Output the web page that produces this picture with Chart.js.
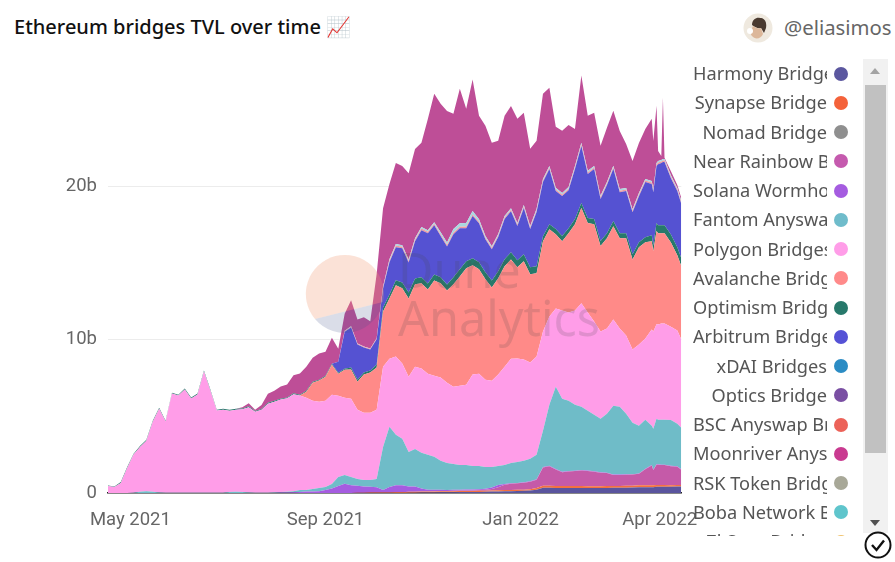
<!DOCTYPE html>
<html>
<head>
<meta charset="utf-8">
<title>Ethereum bridges TVL over time</title>
<script src="https://cdn.jsdelivr.net/npm/chart.js@4/dist/chart.umd.min.js"></script>
<style>
  html, body { margin: 0; padding: 0; background: #fff; width: 895px; height: 562px; overflow: hidden; }
  body { position: relative; font-family: "Noto Sans", sans-serif; }
  #title { position: absolute; left: 14px; top: 13px; font-size: 20px; font-weight: 500; color: #111; white-space: nowrap; }
  #handle { position: absolute; left: 784px; top: 13px; font-size: 20.3px; color: #666; white-space: nowrap; }
  #avatar { position: absolute; left: 743px; top: 13px; }
  #chartBox { position: absolute; left: 0; top: 42px; width: 706px; height: 493px; }
  #watermark { position: absolute; left: 303px; top: 245px; width: 320px; height: 100px; pointer-events: none; }
  #duneText { position: absolute; left: 398px; top: 245px; font-size: 48.5px; line-height: 48px; color: rgba(70, 70, 70, 0.17); pointer-events: none; }
  #legend { position: absolute; left: 690px; top: 59px; width: 165px; height: 477px; overflow: hidden; }
  .row { position: absolute; left: 0; height: 29px; width: 165px; }
  .name { position: absolute; left: 3px; width: 134px; top: 0; line-height: 29px; font-size: 18.2px; color: #555; white-space: nowrap; overflow: hidden; text-align: right; }
  .dot { position: absolute; left: 144px; top: 7.5px; width: 14px; height: 14px; border-radius: 50%; }
  #track { position: absolute; left: 863px; top: 59px; width: 25px; height: 474px; background: #f1f1f1; }
  #thumb { position: absolute; left: 2px; top: 26px; width: 21px; height: 368px; background: #c1c1c1; }
  #up { position: absolute; left: 7px; top: 9px; border: 5px solid transparent; border-top: 0; border-bottom: 6px solid #a3a3a3; }
  #down { position: absolute; left: 7px; top: 461px; border: 5px solid transparent; border-bottom: 0; border-top: 6px solid #505050; }
  #check { position: absolute; left: 864px; top: 531px; }
</style>
</head>
<body>
<div id="title">Ethereum bridges TVL over time 📈</div>
<svg id="avatar" width="30" height="30" viewBox="0 0 30 30">
  <circle cx="15" cy="15" r="14.5" fill="#efe9df"/>
  <path d="M9 12c0-6 5-8 8-7 5 0 7 4 6 10l-2 5-3-5c-3 1-6-1-9-3z" fill="#4a3a30"/>
  <path d="M10 13c3 2 6 3 8 2l2 6c-2 5-8 6-11 2-2-2-1-6 1-10z" fill="#dcb79a"/>
  <circle cx="7" cy="18" r="3" fill="#fff"/>
</svg>
<div id="handle">@eliasimos</div>
<div id="chartBox"><canvas id="tvlChart"></canvas></div>
<svg id="watermark" viewBox="0 0 320 100">
  <path d="M12 74 A39 39 0 1 1 80 57 Z" fill="rgba(240,150,110,0.28)"/>
  <path d="M12 74 L80 57 A39 39 0 0 1 12 74 Z" fill="rgba(70,85,140,0.2)"/>
</svg>
<div id="duneText">Dune<br>Analytics</div>
<div id="legend"></div>
<div id="track"><div id="up"></div><div id="thumb"></div><div id="down"></div></div>
<svg id="check" width="28" height="28" viewBox="0 0 28 28">
  <circle cx="14" cy="14" r="12.5" fill="#fff" stroke="#111" stroke-width="2"/>
  <path d="M8 14l4.5 5L20 9.5" fill="none" stroke="#111" stroke-width="2.4"/>
</svg>
<script>
// days since the first sample (17 Apr 2021), every 4 days plus a few around the late spikes
const days = [
  0, 4, 8, 12, 16, 20, 24, 28, 32, 36,
  40, 44, 48, 52, 56, 60, 64, 68, 72, 76,
  80, 84, 88, 92, 96, 100, 104, 108, 112, 116,
  120, 124, 128, 132, 136, 140, 144, 148, 152, 156,
  160, 164, 168, 172, 176, 180, 184, 188, 192, 196,
  200, 204, 208, 212, 216, 220, 224, 228, 232, 236,
  240, 244, 248, 252, 256, 260, 264, 268, 272, 276,
  280, 284, 288, 292, 296, 300, 304, 308, 312, 316,
  320, 324, 328, 332, 336, 340, 341, 343, 344, 346,
  347, 348, 352, 356, 358.5
];

const xTickDays = [14, 136, 258, 345];
const xTickLabels = ['May 2021', 'Sep 2021', 'Jan 2022', 'Apr 2022'];
const yTicks = [0, 10, 20];

// legend
const legendNames = [
  'Harmony Bridge', 'Synapse Bridge', 'Nomad Bridge', 'Near Rainbow Bridge', 'Solana Wormhole Bridge',
  'Fantom Anyswap Bridge', 'Polygon Bridges', 'Avalanche Bridge', 'Optimism Bridge', 'Arbitrum Bridge',
  'xDAI Bridges', 'Optics Bridge', 'BSC Anyswap Bridge', 'Moonriver Anyswap Bridge', 'RSK Token Bridge',
  'Boba Network Bridge', 'ZkSync Bridge'
];
const legendColors = [
  '#5b579f', '#f4623a', '#8f8f8f', '#c55aae', '#a55ce0',
  '#6fbccb', '#ff9de8', '#ff8a8a', '#27796b', '#5552d6',
  '#2b8cc4', '#7a4fa3', '#ec6259', '#c93a90', '#a8a898',
  '#5fc5cc', '#f0c36d'
];

// values in billions USD, bottom of the stack first
const harmony = [
  0, 0, 0, 0, 0, 0, 0, 0, 0, 0,
  0, 0, 0, 0, 0, 0, 0, 0, 0, 0,
  0, 0, 0, 0, 0, 0, 0, 0, 0, 0,
  0, 0, 0, 0, 0, 0, 0, 0, 0, 0,
  0, 0, 0, 0, 0, 0, 0, .02, .02, .03,
  .03, .04, .05, .05, .05, .06, .06, .06, .07, .08,
  .09, .1, .11, .12, .13, .14, .16, .22, .34, .34,
  .33, .33, .33, .33, .33, .32, .32, .32, .33, .34,
  .34, .35, .36, .38, .38, .38, .38, .4, .4, .4,
  .4, .4, .4, .42, .42
];
const synapse = [
  0, 0, 0, 0, 0, 0, 0, 0, 0, 0,
  0, 0, 0, 0, 0, 0, 0, 0, 0, 0,
  0, 0, 0, 0, 0, 0, 0, 0, 0, 0,
  0, 0, 0, 0, 0, 0, 0, 0, 0, .02,
  .02, .03, .03, .04, .04, .05, .05, .06, .06, .06,
  .06, .06, .06, .06, .07, .07, .07, .07, .07, .07,
  .07, .08, .08, .08, .08, .08, .08, .1, .13, .13,
  .12, .12, .12, .12, .12, .12, .12, .12, .12, .12,
  .12, .12, .12, .12, .12, .12, .12, .12, .12, .12,
  .12, .12, .1, .1, .1
];
const near = [
  0, 0, 0, 0, 0, 0, 0, 0, 0, 0,
  0, 0, 0, 0, 0, 0, 0, 0, 0, 0,
  0, 0, 0, 0, 0, 0, 0, 0, 0, 0,
  0, 0, 0, 0, 0, 0, 0, 0, 0, 0,
  0, 0, 0, 0, 0, 0, 0, 0, 0, 0,
  0, .01, .02, .02, .03, .03, .04, .04, .05, .07,
  .1, .2, .35, .4, .42, .45, .5, .55, 1.2, 1.28,
  1.09, .9, .95, .98, 1.02, 1.0, .95, .88, .85, .72,
  .72, .72, .72, .75, 1.05, 1.3, 1.0, 1.33, 1.32, 1.3,
  1.3, 1.3, 1.25, 1.2, 1.0
];
const solana = [
  0, 0, 0, 0, 0, 0, 0, 0, 0, 0,
  0, 0, 0, 0, 0, 0, 0, 0, 0, 0,
  0, 0, 0, 0, 0, 0, 0, .03, .04, .05,
  .06, .1, .1, .12, .2, .3, .45, .6, .5, .45,
  .4, .38, .35, .15, .35, .45, .45, .35, .35, .2,
  .12, .1, .08, .06, .06, .06, .06, .06, .06, .06,
  .1, .15, .05, .03, .03, .03, .03, .03, .03, .03,
  .03, .03, .03, .03, .03, .03, .03, .03, .03, .03,
  .03, .03, .03, .03, .03, .03, .03, .03, .03, .03,
  .03, .03, .03, .03, .03
];
const fantom = [
  0, 0, 0, 0, .02, .08, .12, .08, .04, .01,
  .01, .01, .01, .01, .01, .01, .01, .01, .02, .06,
  .08, .06, .03, .02, .02, .02, .03, .03, .04, .06,
  .14, .1, .16, .21, .19, .29, .6, .58, .55, .45,
  .43, .44, .54, 2.82, 3.93, 3.3, 3.04, 2.25, 2.45, 2.33,
  2.28, 2.15, 1.89, 1.77, 1.69, 1.61, 1.6, 1.54, 1.52, 1.42,
  1.34, 1.24, 1.24, 1.33, 1.37, 1.4, 1.46, 1.59, 2.36, 3.98,
  5.37, 4.78, 4.59, 4.3, 4.13, 3.9, 3.69, 3.5, 3.84, 4.49,
  4.42, 3.95, 3.35, 3.11, 3.2, 2.56, 2.66, 2.97, 2.91, 2.93,
  2.93, 2.93, 2.98, 2.77, 2.71
];
const polygon = [
  .46, .39, .65, 1.64, 2.49, 2.93, 3.29, 4.57, 5.46, 4.65,
  6.48, 6.35, 6.75, 6.16, 6.42, 7.92, 6.68, 5.37, 5.42, 5.31,
  5.36, 5.4, 5.57, 5.28, 5.41, 5.81, 5.93, 6.04, 6.1, 6.34,
  6.16, 6.02, 5.76, 5.63, 5.63, 5.83, 5.3, 5.04, 5.11, 4.52,
  4.39, 4.39, 4.52, 5.24, 4.45, 5.11, 4.91, 4.91, 5.37, 5.5,
  5.3, 5.3, 5.44, 5.24, 5.04, 5.17, 5.24, 5.96, 6.02, 5.7,
  5.63, 5.96, 6.42, 6.81, 6.75, 6.61, 6.29, 6.42, 6.48, 5.76,
  5.11, 5.76, 5.76, 6.16, 6.75, 6.42, 6.09, 5.7, 5.57, 5.63,
  5.11, 5.11, 4.78, 5.3, 5.3, 6.29, 6.35, 6.16, 6.22, 6.29,
  6.29, 6.29, 6.09, 6.09, 5.76
];
const avalanche = [
  0, 0, 0, 0, 0, 0, 0, 0, 0, 0,
  0, 0, 0, 0, 0, 0, 0, 0, 0, 0,
  0, 0, 0, 0, 0, 0, 0, 0, 0, 0,
  0, .39, 1.18, 1.38, 1.57, 1.96, 1.44, 1.83, 1.9, 1.83,
  2.49, 2.62, 2.75, 3.6, 3.93, 4.65, 4.91, 5.11, 5.37, 5.57,
  5.5, 6.22, 6.16, 6.02, 6.68, 7.14, 7.6, 7.14, 6.81, 6.55,
  6.09, 6.29, 6.55, 6.48, 5.96, 6.42, 5.76, 5.44, 5.89, 5.7,
  4.85, 4.52, 5.17, 5.63, 6.22, 5.83, 6.35, 5.57, 5.89, 6.09,
  5.89, 6.35, 5.89, 6.35, 6.29, 5.76, 5.24, 6.09, 5.96, 5.89,
  5.89, 5.89, 5.5, 4.91, 4.78
];
const optimism = [
  .03, .03, .06, .06, .06, .06, .06, .06, .06, .06,
  .06, .06, .06, .06, .06, .06, .06, .06, .06, .06,
  .06, .06, .06, .06, .06, .06, .06, .06, .06, .06,
  .06, .06, .06, .06, .06, .06, .06, .06, .13, .13,
  .13, .13, .2, .26, .26, .33, .39, .39, .39, .39,
  .39, .39, .39, .39, .46, .46, .46, .46, .46, .46,
  .46, .46, .46, .46, .46, .46, .46, .46, .33, .33,
  .33, .33, .33, .33, .33, .33, .33, .33, .33, .33,
  .33, .33, .33, .33, .33, .39, .39, .52, .52, .52,
  .52, .52, .52, .52, .52
];
const arbitrum = [
  0, 0, 0, 0, 0, 0, 0, 0, 0, 0,
  0, 0, 0, 0, 0, 0, 0, 0, 0, 0,
  0, 0, 0, 0, 0, 0, 0, 0, 0, 0,
  0, 0, 0, 0, 0, 0, .72, 2.42, 2.62, 2.29,
  1.64, 1.38, 1.64, 1.24, 2.1, 2.16, 2.23, 1.96, 2.42, 3.08,
  3.27, 3.21, 2.68, 2.49, 2.82, 2.68, 2.16, 2.75, 2.55, 2.16,
  2.03, 2.23, 2.62, 2.68, 2.23, 3.01, 2.49, 3.54, 3.54, 3.6,
  2.49, 2.62, 2.49, 3.27, 3.73, 2.88, 3.27, 2.75, 3.14, 3.41,
  2.68, 2.75, 2.75, 3.01, 3.6, 3.34, 3.47, 3.73, 3.99, 4.06,
  4.13, 4.13, 3.67, 3.67, 3.54
];
const bsc = [
  0, 0, 0, 0, 0, 0, 0, 0, 0, 0,
  0, 0, 0, 0, 0, 0, 0, 0, 0, 0,
  0, 0, 0, 0, 0, 0, 0, 0, 0, 0,
  0, 0, 0, 0, 0, 0, 0, .05, .05, .05,
  .05, .05, .05, .08, .1, .1, .1, .1, .1, .1,
  .1, .1, .1, .1, .1, .1, .1, .1, .1, .1,
  .1, .1, .1, .1, .1, .1, .1, .1, .1, .1,
  .1, .1, .1, .1, .1, .1, .1, .1, .1, .1,
  .1, .1, .1, .1, .1, .1, .1, .1, .1, .1,
  .1, .1, .1, .1, .1
];
const boba = [
  0, 0, 0, 0, 0, 0, 0, 0, 0, 0,
  0, 0, 0, 0, 0, 0, 0, 0, 0, 0,
  0, 0, 0, 0, 0, 0, 0, 0, 0, 0,
  0, 0, 0, 0, 0, 0, 0, .02, .02, .02,
  .02, .02, .02, .05, .1, .1, .1, .1, .1, .1,
  .1, .1, .16, .16, .23, .23, .23, .23, .16, .1,
  .1, .1, .1, .1, .1, .1, .1, .1, .1, .1,
  .1, .1, .1, .1, .1, .1, .1, .1, .1, .1,
  .1, .1, .1, .1, .1, .1, .1, .1, .1, .1,
  .1, .1, .1, .1, .1
];
// large band on top of the stack, its legend entry is scrolled out of view
const otherBridges = [
  0, 0, 0, 0, 0, 0, 0, 0, 0, 0,
  0, 0, 0, 0, 0, 0, 0, 0, 0, 0,
  0, .07, .2, .07, .26, .59, .65, .79, .85, 1.18,
  1.38, 1.57, 1.57, 1.7, 1.57, 1.7, .85, 1.11, 1.7, 1.57,
  1.9, 1.77, 4.19, 5.11, 4.91, 5.3, 5.17, 5.63, 5.83, 5.5,
  7.27, 8.38, 8.38, 8.58, 7.53, 8.78, 7.47, 8.58, 6.75, 7.2,
  6.75, 6.09, 6.55, 6.68, 6.81, 6.02, 5.04, 4.45, 5.57, 5.11,
  3.99, 4.06, 4.06, 2.42, 4.39, 3.6, 3.47, 3.27, 3.54, 3.6,
  3.8, 2.88, 3.14, 3.27, 3.27, 4.06, 3.14, 3.73, .65, .26,
  3.99, .07, .26, .2, .2
];

const layers = [
  { label: 'Harmony Bridge', data: harmony, color: '#5a559e' },
  { label: 'Synapse Bridge', data: synapse, color: '#f4703f' },
  { label: 'Near Rainbow Bridge', data: near, color: '#c55aa8' },
  { label: 'Solana Wormhole Bridge', data: solana, color: '#a55ce0' },
  { label: 'Fantom Anyswap Bridge', data: fantom, color: '#6fbcc8' },
  { label: 'Polygon Bridges', data: polygon, color: '#ff9de8' },
  { label: 'Avalanche Bridge', data: avalanche, color: '#ff8a88' },
  { label: 'Optimism Bridge', data: optimism, color: '#27796b' },
  { label: 'Arbitrum Bridge', data: arbitrum, color: '#5552d2' },
  { label: 'BSC Anyswap Bridge', data: bsc, color: '#ef9aa0' },
  { label: 'Boba Network Bridge', data: boba, color: '#a8d8e0' },
  { label: 'Other bridges', data: otherBridges, color: '#be4e97' }
];

function buildLegend() {
    const legend = document.getElementById('legend');
    legendNames.forEach((name, i) => {
        const row = document.createElement('div');
        row.className = 'row';
        row.style.top = (i * 29.25) + 'px';
        row.innerHTML = `<div class="name">${name}</div><div class="dot" style="background:${legendColors[i]}"></div>`;
        legend.appendChild(row);
    });
}

function renderChart() {
    const ctx = document.getElementById('tvlChart').getContext('2d');

    new Chart(ctx, {
        type: 'line',
        data: {
            labels: days,
            datasets: layers.map((layer, i) => ({
                label: layer.label,
                data: layer.data,
                backgroundColor: layer.color,
                borderWidth: 0,
                pointRadius: 0,
                fill: i === 0 ? 'origin' : '-1'
            }))
        },
        options: {
            responsive: true,
            maintainAspectRatio: false,
            animation: false,
            layout: { padding: { top: 8.4, right: 22 } },
            plugins: {
                legend: { display: false },
                tooltip: { enabled: false }
            },
            scales: {
                x: {
                    type: 'linear',
                    min: 0,
                    max: 358.5,
                    afterBuildTicks: scale => { scale.ticks = xTickDays.map(v => ({ value: v })); },
                    afterFit: scale => { scale.height = 42; },
                    border: { display: true, color: '#222', width: 1.5 },
                    grid: { display: false },
                    ticks: {
                        autoSkip: false,
                        maxRotation: 0,
                        padding: 8,
                        color: '#666',
                        font: { family: 'Roboto', size: 18.5 },
                        callback: value => xTickLabels[xTickDays.indexOf(value)]
                    }
                },
                y: {
                    stacked: true,
                    min: 0,
                    max: 28,
                    afterBuildTicks: scale => { scale.ticks = yTicks.map(v => ({ value: v })); },
                    afterFit: scale => { scale.width = 108; },
                    border: { display: false },
                    grid: { color: '#ececec', drawTicks: false },
                    ticks: {
                        padding: 11,
                        color: '#666',
                        font: { family: 'Roboto', size: 18.5 },
                        callback: value => value === 0 ? '0' : value + 'b'
                    }
                }
            }
        }
    });
}

document.addEventListener('DOMContentLoaded', () => {
    buildLegend();
    renderChart();
});
</script>
</body>
</html>
